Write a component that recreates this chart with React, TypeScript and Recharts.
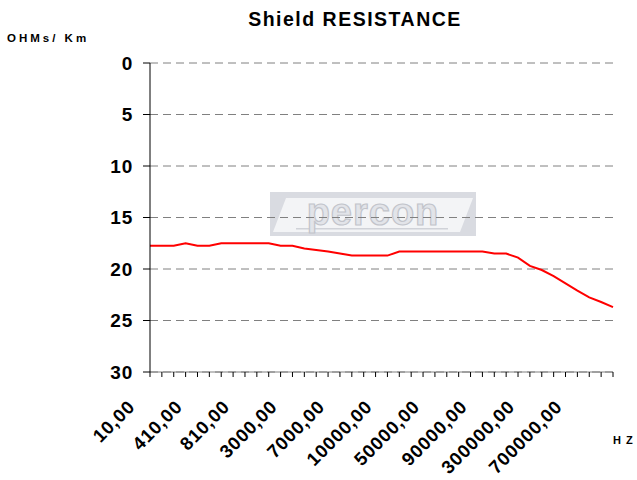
import React from 'react';
import { LineChart, Line, XAxis, YAxis, CartesianGrid } from 'recharts';

const frequencies: string[] = [
  '10,00', '110,00', '210,00', '310,00', '410,00', '510,00', '610,00', '710,00',
  '810,00', '910,00', '1000,00', '2000,00', '3000,00', '4000,00', '5000,00', '6000,00',
  '7000,00', '8000,00', '9000,00', '9500,00', '10000,00', '20000,00', '30000,00', '40000,00',
  '50000,00', '60000,00', '70000,00', '80000,00', '90000,00', '100000,00', '150000,00', '200000,00',
  '300000,00', '400000,00', '500000,00', '600000,00', '700000,00', '800000,00', '900000,00', '1000000,00',
];

const resistance: number[] = [
  17.75, 17.75, 17.75, 17.5, 17.75, 17.75, 17.5, 17.5,
  17.5, 17.5, 17.5, 17.75, 17.75, 18.0, 18.15, 18.3,
  18.5, 18.7, 18.7, 18.7, 18.7, 18.3, 18.3, 18.3,
  18.3, 18.3, 18.3, 18.3, 18.3, 18.5, 18.5, 18.9,
  19.7, 20.1, 20.7, 21.4, 22.1, 22.75, 23.2, 23.7,
];

const yTicks: number[] = [0, 5, 10, 15, 20, 25, 30];
const labelEvery = 4;

const data = frequencies.map((hz, i) => ({ hz, r: resistance[i] }));

const FONT = '"Liberation Sans", Arial, sans-serif';

const XTick = (props: any) => {
  const { x, y, payload, index } = props;
  if (index % labelEvery !== 0) return <g />;
  const px = x - 14;
  const py = y + 29;
  return (
    <text
      x={px}
      y={py}
      transform={`rotate(-45 ${px} ${py})`}
      textAnchor="end"
      fontFamily={FONT}
      fontWeight="bold"
      fontSize={18.5}
      letterSpacing={0.8}
      fill="#000"
    >
      {payload.value}
    </text>
  );
};

const YTick = (props: any) => {
  const { x, y, payload } = props;
  return (
    <text
      x={x}
      y={y}
      dy="0.36em"
      textAnchor="end"
      fontFamily={FONT}
      fontWeight="bold"
      fontSize={19}
      letterSpacing={0.8}
      fill="#000"
    >
      {payload.value}
    </text>
  );
};

const Watermark = () => (
  <div
    style={{
      position: 'absolute',
      left: 270,
      top: 192,
      width: 206,
      height: 44,
      zIndex: 0,
    }}
  >
    <svg width={206} height={44}>
      <rect x={0} y={0} width={206} height={44} fill="#d9dbe1" />
      <polygon points="3,40 16,6 24,6 24,40" fill="#f3f4f6" />
      <polygon points="203,6 190,40 182,40 182,6" fill="#f3f4f6" />
      <rect x={24} y={6} width={158} height={34} fill="#f3f4f6" />
      <rect x={26} y={36} width={152} height={1.5} fill="#d0d2d8" />
      <text
        x={103}
        y={33}
        textAnchor="middle"
        fontFamily={FONT}
        fontWeight="bold"
        fontSize={38}
        fill="#e2e4e9"
        stroke="#c2c4cb"
        strokeWidth={1.2}
        letterSpacing={1}
      >
        percon
      </text>
    </svg>
  </div>
);

export default function App() {
  return (
    <div
      style={{
        position: 'absolute',
        left: 0,
        top: 0,
        width: 637,
        height: 480,
        background: '#fff',
        fontFamily: FONT,
      }}
    >
      <Watermark />
      <div style={{ position: 'absolute', left: 0, top: 0, zIndex: 1 }}>
        <LineChart
          width={637}
          height={480}
          data={data}
          margin={{ top: 63, right: 24, bottom: 0, left: 0 }}
        >
          <CartesianGrid
            horizontal
            vertical={false}
            stroke="#808080"
            strokeDasharray="8 5"
          />
          <XAxis
            dataKey="hz"
            interval={0}
            height={108}
            axisLine={{ stroke: '#808080' }}
            tickLine={{ stroke: '#000' }}
            tickSize={5}
            tick={<XTick />}
          />
          <YAxis
            domain={[0, 30]}
            ticks={yTicks}
            reversed
            width={150}
            axisLine={{ stroke: '#000' }}
            tickLine={{ stroke: '#000' }}
            tickSize={7}
            tickMargin={10}
            tick={<YTick />}
          />
          <Line
            type="linear"
            dataKey="r"
            stroke="#ff0000"
            strokeWidth={2}
            dot={false}
            isAnimationActive={false}
          />
        </LineChart>
      </div>
      <div
        style={{
          position: 'absolute',
          left: 0,
          width: 710,
          top: 8,
          textAlign: 'center',
          fontSize: 19.5,
          fontWeight: 'bold',
          letterSpacing: 1.5,
          zIndex: 2,
          whiteSpace: 'nowrap',
        }}
      >
        Shield RESISTANCE
      </div>
      <div
        style={{
          position: 'absolute',
          left: 7,
          top: 32,
          fontSize: 11.5,
          fontWeight: 'bold',
          letterSpacing: 3,
          zIndex: 2,
          whiteSpace: 'nowrap',
        }}
      >
        OHMs/ Km
      </div>
      <div
        style={{
          position: 'absolute',
          left: 613,
          top: 434,
          fontSize: 11,
          fontWeight: 'bold',
          letterSpacing: 5,
          zIndex: 2,
          whiteSpace: 'nowrap',
        }}
      >
        HZ
      </div>
    </div>
  );
}
